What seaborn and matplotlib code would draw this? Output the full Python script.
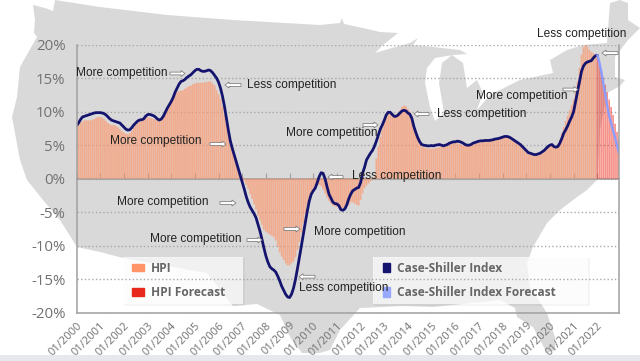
import matplotlib
matplotlib.use("Agg")
import matplotlib.pyplot as plt
from matplotlib.patches import Patch
import pandas as pd
import seaborn as sns

# monthly values from 01/2000
hpi = [7.6,8.0,8.3,8.5,8.7,8.7,8.7,8.7,8.8,8.9,9.1,9.2,
       9.2,9.1,8.9,8.6,8.3,8.1,8.0,8.0,7.9,7.7,7.4,7.1,
       6.9,6.7,6.6,6.8,7.1,7.6,8.0,8.3,8.5,8.8,9.0,9.1,
       9.2,9.1,9.0,8.9,8.8,8.7,8.7,8.9,9.4,9.9,10.4,11.0,
       11.4,12.0,12.5,12.9,13.1,13.1,13.2,13.4,13.6,13.8,13.9,14.1,
       14.2,14.3,14.3,14.3,14.3,14.4,14.4,14.5,14.5,14.2,13.9,13.2,
       12.6,11.9,10.8,9.6,8.3,7.0,5.7,4.6,3.6,2.6,1.6,0.9,
       0.3,-0.3,-0.9,-1.5,-2.3,-3.0,-3.8,-4.6,-5.5,-6.2,-6.9,-7.6,
       -7.9,-8.1,-8.3,-8.5,-8.7,-9.2,-10.1,-11.0,-11.6,-12.1,-12.6,-12.9,
       -12.9,-12.6,-12.3,-11.7,-10.6,-9.4,-8.0,-6.6,-5.2,-4.0,-3.0,-2.2,
       -1.6,-1.3,-1.1,-0.9,-1.1,-1.6,-2.2,-2.8,-3.3,-3.7,-4.0,-4.1,
       -4.2,-4.3,-4.4,-4.4,-4.3,-4.2,-3.9,-3.5,-3.5,-3.7,-3.9,-4.0,
       -3.2,-2.2,-1.4,-1.0,-0.7,-0.4,-0.1,0.3,3.0,4.8,6.2,7.4,
       8.6,9.3,9.6,9.6,9.5,9.4,9.5,9.8,10.2,10.7,10.9,10.8,
       10.4,10.0,9.3,8.1,7.0,6.0,5.2,4.8,4.7,4.6,4.5,4.5,
       4.5,4.5,4.6,4.6,4.7,4.8,4.8,4.8,4.9,5.1,5.2,5.3,
       5.3,5.3,5.2,5.1,5.0,4.9,4.9,4.9,5.0,5.1,5.2,5.3,
       5.4,5.4,5.5,5.6,5.6,5.6,5.7,5.8,5.8,5.9,5.9,6.0,
       6.1,6.1,6.2,6.1,5.9,5.7,5.5,5.3,5.1,4.8,4.5,4.2,
       3.9,3.7,3.6,3.5,3.4,3.4,3.5,3.6,3.8,4.0,4.3,4.6,
       4.9,5.0,4.9,4.8,5.2,5.8,6.8,7.7,8.6,9.4,10.2,11.0,
       11.8,13.0,14.5,16.5,18.5,19.6,20.0,19.7,19.2,18.9,18.7,18.5]
hpi_forecast = [18.2,17.3,16.2,15.1,14.0,12.9,11.8,10.7,9.5,8.2,7.0,5.8]

case_shiller = [7.9,8.3,8.8,9.2,9.3,9.4,9.5,9.6,9.7,9.8,9.85,9.85,
                9.85,9.8,9.7,9.5,9.2,8.9,8.7,8.6,8.5,8.4,8.3,8.0,
                7.7,7.4,7.25,7.3,7.6,8.0,8.3,8.6,8.75,8.8,8.9,9.3,
                9.55,9.6,9.5,9.4,9.2,8.9,8.75,8.9,9.3,9.9,10.5,11.0,
                11.5,12.1,12.9,13.5,14.1,14.5,14.6,14.8,15.1,15.3,15.5,15.8,
                16.1,16.3,16.3,16.1,16.0,16.0,16.1,16.2,16.1,15.8,15.4,15.0,
                14.4,13.5,12.3,10.8,9.0,7.2,5.6,4.5,3.5,2.5,1.5,0.5,
                -0.5,-1.5,-2.6,-3.5,-4.2,-4.7,-5.2,-5.8,-6.8,-7.8,-9.0,-10.3,
                -11.5,-12.4,-13.1,-13.4,-13.6,-13.9,-14.5,-15.2,-16.0,-16.6,-17.2,-17.6,
                -17.7,-17.2,-16.3,-15.0,-13.4,-11.7,-10.0,-8.2,-6.5,-4.8,-3.3,-2.3,
                -1.8,-1.4,-0.6,0.3,0.9,0.8,0.0,-1.2,-2.3,-2.9,-3.5,-3.7,
                -3.75,-4.0,-4.6,-4.7,-4.5,-3.9,-3.0,-2.3,-1.8,-1.6,-1.4,-1.3,
                -0.6,0.8,1.7,2.8,3.3,3.8,4.2,4.8,5.6,6.5,7.4,8.0,
                8.7,9.5,9.9,9.9,9.6,9.3,9.3,9.5,9.8,10.1,10.2,10.1,
                9.8,9.6,9.0,7.8,6.9,6.1,5.5,5.1,5.0,4.95,4.9,4.9,
                4.95,4.9,5.0,5.05,5.1,5.0,4.9,5.0,5.1,5.3,5.4,5.5,
                5.5,5.6,5.55,5.45,5.3,5.1,5.0,5.0,5.1,5.3,5.4,5.5,
                5.6,5.65,5.65,5.7,5.7,5.7,5.75,5.8,5.9,5.95,6.0,6.1,
                6.2,6.3,6.3,6.25,6.1,5.9,5.7,5.5,5.3,5.1,4.8,4.5,
                4.2,3.9,3.8,3.7,3.6,3.6,3.7,3.8,4.0,4.2,4.5,4.8,
                5.0,5.1,4.8,4.7,4.8,5.3,6.0,6.8,7.3,7.9,8.6,9.2,
                10.0,11.5,13.0,14.5,16.0,16.8,17.2,17.4,17.5,17.6,18.0,18.3,
                18.4]
case_shiller_forecast = [18.4,17.4,16.0,14.3,12.6,10.9,9.4,8.3,7.2,6.1,5.0,3.8]

years = list(range(2000, 2023))
tick_labels = [f"01/{y}" for y in years]
y_values = [-20, -15, -10, -5, 0, 5, 10, 15, 20]

# rough outline of the US behind the chart, in image pixels
map_x = [55,100,167,233,320,340,342,344,363,380,398,383,375,392,410,418,413,433,460,467,453,435,427,425,430,435,
         444,439,442,452,463,467,477,483,477,490,520,553,550,567,583,607,610,620,628,628,640,628,615,615,625,620,
         607,600,597,587,577,560,547,533,527,530,547,555,555,547,533,517,515,500,433,403,360,340,330,320,302,290,
         280,257,233,207,123,100,77,60,43,27,20,15,12,17,20,37,34,35,33,45,53]
map_y = [0,7,15,20,25,23,18,24,28,32,33,45,53,48,43,38,45,47,50,54,55,58,68,83,107,121,
         113,83,63,55,63,88,80,93,110,95,80,73,60,50,45,43,3,0,3,20,28,40,57,77,80,86,
         93,130,180,190,197,210,223,247,263,287,313,337,350,353,327,317,308,300,307,306,308,330,350,353,353,337,
         315,304,306,273,258,252,247,220,200,180,160,133,117,97,67,37,33,20,5,8,11]

# text, left x, y, arrow start x, arrow tip x, arrow y (image pixels)
notes = [("More competition", 76, 73, 170, 185, 73.5),
         ("Less competition", 247, 85, 241, 225, 85),
         ("More competition", 110.5, 141, 210, 226, 144),
         ("More competition", 286, 133, 363, 378, 125),
         ("Less competition", 437, 114, 429, 414, 114),
         ("Less competition", 537, 34, 618, 602, 53),
         ("More competition", 476, 96, 563, 578, 89.5),
         ("Less competition", 352, 176.5, 343, 328, 177),
         ("More competition", 117, 202, 220, 236, 203),
         ("More competition", 150, 239, 247, 262, 240),
         ("More competition", 314, 232, 284, 300, 229),
         ("Less competition", 299, 288, 315, 299, 276.7)]

months = list(range(len(hpi) + len(hpi_forecast)))
n = len(hpi)
df_hpi = pd.DataFrame({"month": months[:n], "value": hpi})
df_hpi_f = pd.DataFrame({"month": months[n:], "value": hpi_forecast})
df_cs = pd.DataFrame({"month": months[:n + 1], "value": case_shiller})
df_cs_f = pd.DataFrame({"month": months[n:], "value": case_shiller_forecast})

sns.set_theme(style="white")
plt.rcParams["font.family"] = ["Open Sans", "DejaVu Sans"]

fig = plt.figure(figsize=(6.4, 3.61), dpi=100)

# map layer, with the pale legend boxes on it
bg = fig.add_axes([0, 0, 1, 1], zorder=0)
bg.set_xlim(0, 640)
bg.set_ylim(361, 0)
bg.axis("off")
bg.fill(map_x, map_y, color="#d9d9d9", lw=0)
for x0, x1 in [(123, 243), (373, 588)]:
    bg.fill_between([x0 + 1, x1 + 2], 258, 306, color="#000000", alpha=0.04, lw=0)
    bg.fill_between([x0, x1], 257, 304, color="white", alpha=0.72, lw=0)

# chart layer
ax = fig.add_axes([76.5 / 640, 1 - 313 / 361, 542.5 / 640, 268.5 / 361], zorder=1)
ax.patch.set_alpha(0)
sns.barplot(data=df_hpi, x="month", y="value", native_scale=True, width=0.88, color="#ff9468",
            alpha=0.66, saturation=1, edgecolor="none", linewidth=0, errorbar=None, ax=ax)
sns.barplot(data=df_hpi_f, x="month", y="value", native_scale=True, width=0.88, color="#ee3a2c",
            alpha=0.55, saturation=1, edgecolor="none", linewidth=0, errorbar=None, ax=ax)
for bar in ax.patches:
    bar.set_snap(False)
sns.lineplot(data=df_cs, x="month", y="value", color="#14146e", lw=2, errorbar=None, ax=ax)
sns.lineplot(data=df_cs_f, x="month", y="value", color="#8c9dff", lw=1.7, errorbar=None, ax=ax)

ax.set_xlim(0, 275)
ax.set_ylim(-20, 20)
ax.set_xlabel("")
ax.set_ylabel("")
ax.set_yticks(y_values, [f"{v}%" for v in y_values])
ax.set_xticks([(y - 2000) * 12 for y in years], tick_labels)
ax.tick_params(axis="y", length=0, pad=8, labelsize=10.8, labelcolor="#717171")
ax.tick_params(axis="x", length=0, pad=5, labelsize=8, labelcolor="#717171")
for lab in ax.get_xticklabels():
    lab.set_rotation(45)
    lab.set_ha("right")
    lab.set_rotation_mode("anchor")
ax.grid(axis="y", color="#a8a8a8", ls=":", lw=1)
ax.set_axisbelow(True)
ax.spines["top"].set_visible(False)
for side in ["left", "right", "bottom"]:
    ax.spines[side].set_color("#a0a0a0")
    ax.spines[side].set_linewidth(1.1)

# zero line with the small ticks
zero = ax.secondary_xaxis(0.5)
zero.set_xticks([(y - 2000) * 12 for y in years], [""] * len(years))
zero.tick_params(length=4, width=0.8, color="#a0a0a0")
for sp in zero.spines.values():
    sp.set_color("#a0a0a0")

# the two legends
leg_font = {"weight": "bold", "size": 8.6}
leg1 = ax.legend(handles=[Patch(color="#ff9468", label="HPI"), Patch(color="#e8281c", label="HPI Forecast")],
                 loc="lower left", bbox_to_anchor=(132 / 640, 1 - 299 / 361), bbox_transform=fig.transFigure,
                 prop=leg_font, labelcolor="#666666", frameon=False, borderaxespad=0, borderpad=0,
                 labelspacing=0.95, handlelength=1.0, handleheight=0.6, handletextpad=0.6)
ax.add_artist(leg1)
leg2 = ax.legend(handles=[Patch(color="#14146e", label="Case-Shiller Index"),
                          Patch(color="#98a8ff", label="Case-Shiller Index Forecast")],
                 loc="lower left", bbox_to_anchor=(383 / 640, 1 - 299 / 361), bbox_transform=fig.transFigure,
                 prop=leg_font, labelcolor="#666666", frameon=False, borderaxespad=0, borderpad=0,
                 labelspacing=0.95, handlelength=0.6, handleheight=0.9, handletextpad=0.6)

# notes and the band along the bottom edge
top = fig.add_axes([0, 0, 1, 1], zorder=2)
top.set_xlim(0, 640)
top.set_ylim(361, 0)
top.axis("off")
for text, tx, ty, a0, a1, ay in notes:
    top.text(tx, ty, text, family="Liberation Sans", fontsize=8.6, color="#222222", ha="left", va="center")
    top.arrow(a0, ay, a1 - a0, 0, width=2.8, head_width=6, head_length=4, length_includes_head=True,
              fc="white", ec="#808080", lw=0.6)
top.fill_between([0, 640], 355, 361, color="#e6e8ee", lw=0)

fig.savefig("out.png", dpi=100)
